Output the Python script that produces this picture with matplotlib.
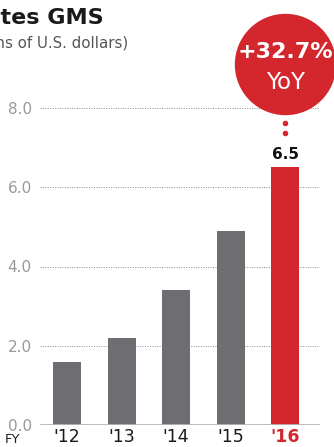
import matplotlib.pyplot as plt

years = ["'12", "'13", "'14", "'15", "'16"]
gms = [1.6, 2.2, 3.4, 4.9, 6.5]
yticks = [0, 2, 4, 6, 8]
growth_label = "+32.7%"

GRAY = '#6e6d72'
RED = '#d3262d'

plt.rcParams['font.family'] = ['DejaVu Sans']

fig = plt.figure(figsize=(3.34, 4.47), dpi=100)
# y=0 at pixel 425, y=8 at pixel 108
ax = fig.add_axes([40 / 334, 22 / 447, 280 / 334, 317 / 447])
ax.set_ylim(0, 8)
ax.set_xlim(-0.5, 4.64)

x = list(range(len(years)))
colors = [GRAY] * (len(years) - 1) + [RED]
ax.bar(x, gms, width=0.51, color=colors, zorder=2)

for v in yticks[1:]:
    ax.axhline(v, color='#8a8a8a', lw=0.7, ls=(0, (1, 1.5)), zorder=1)
ax.axhline(0, color='#b5b5b5', lw=2, zorder=3)

for s in ax.spines.values():
    s.set_visible(False)
ax.set_yticks(yticks)
ax.set_yticklabels([f'{v:.1f}' for v in yticks], color='#999999', fontsize=11)
ax.tick_params(axis='y', length=0, pad=6)
ax.set_xticks(x)
ax.set_xticklabels(years, fontsize=12.5, color='#1a1a1a')
ax.tick_params(axis='x', length=0, pad=2)
lbl = ax.get_xticklabels()[-1]
lbl.set_color(RED)
lbl.set_fontweight('bold')

fig.text(5 / 334, 1 - 443 / 447, 'FY', fontsize=9.5, color='#222222', va='baseline')

# value label on latest bar
ax.text(x[-1], gms[-1] + 0.14, f'{gms[-1]:.1f}', ha='center', va='bottom',
        fontsize=11, fontweight='bold', color='#111111')

# growth bubble
ax.scatter([x[-1]], [9.12], s=73 ** 2, color=RED, clip_on=False, zorder=5, linewidths=0)
ax.scatter([x[-1], x[-1]], [7.63, 7.38], s=16, color=RED, clip_on=False, zorder=5, linewidths=0)
ax.text(x[-1], 9.42, growth_label, ha='center', va='center', color='white',
        fontsize=16, fontweight='bold', zorder=6, clip_on=False)
ax.text(x[-1], 8.64, 'YoY', ha='center', va='center', color='white',
        fontsize=16.5, zorder=6, clip_on=False)

fig.text(104 / 334, 1 - 24 / 447, 'United States GMS', ha='right', va='baseline',
         fontsize=16, fontweight='bold', color='#1a1a1a')
fig.text(128 / 334, 1 - 47 / 447, '(Billions of U.S. dollars)', ha='right', va='baseline',
         fontsize=10.8, color='#555555')

fig.savefig('out.png', dpi=100)
